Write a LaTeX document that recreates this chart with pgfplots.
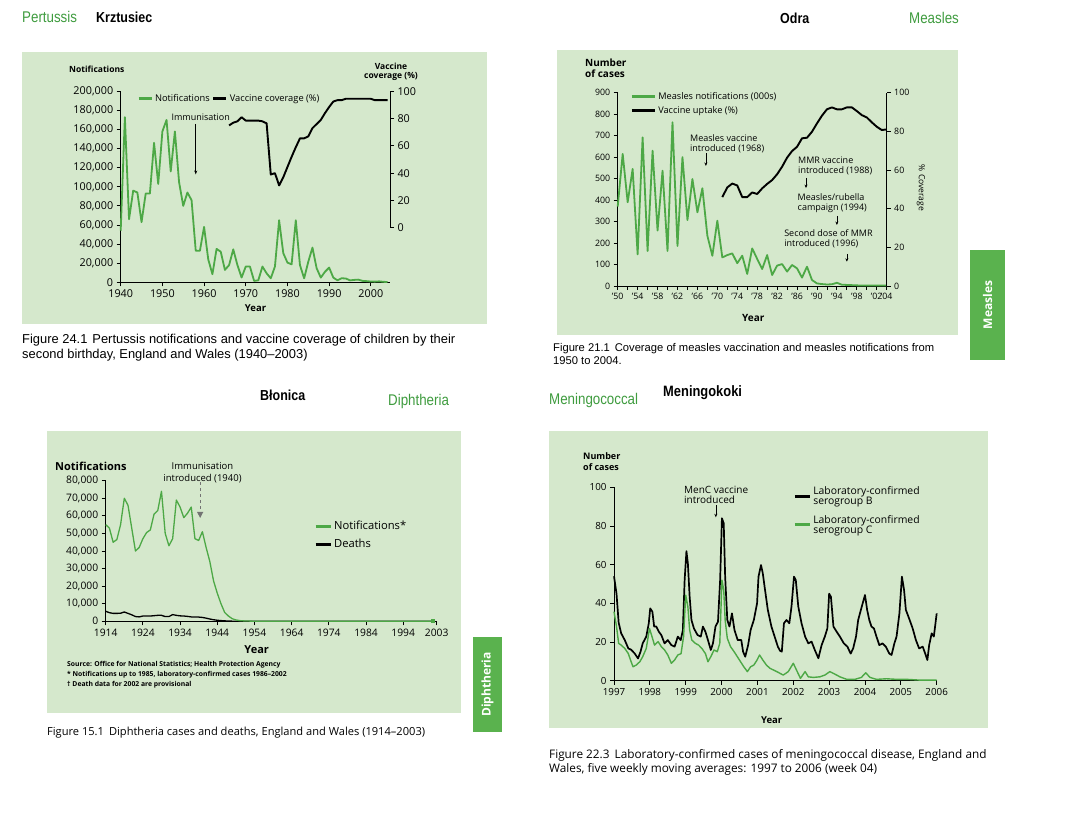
\documentclass[border=0pt]{standalone}
\usepackage{fontspec}
\setmainfont{Open Sans}
\newfontfamily\capfont[Ligatures=TeX]{Liberation Sans}
\newfontfamily\hdfont[FakeStretch=0.86,Ligatures=TeX]{Liberation Sans}
\usepackage{pgfplots}
\pgfplotsset{compat=1.18}
\usetikzlibrary{arrows.meta}
\definecolor{panelbg}{HTML}{D5E8CC}
\definecolor{lgreen}{HTML}{4DA846}
\definecolor{hgreen}{HTML}{3F9C3F}
\definecolor{tabgreen}{HTML}{5AB24E}
\newcommand{\fs}[2]{\fontsize{#1}{#2}\selectfont}
\pgfplotsset{
  every axis/.append style={scale only axis, clip=false, tick align=outside,
    axis line style={-, line width=0.8pt}, major tick length=4pt, minor tick length=4pt,
    tick style={black, line width=0.8pt},
    /pgf/number format/assume math mode=true, legend cell align=left},
  lgimg/.style={legend image code/.code={\draw[##1, line width=3pt] (0pt,0pt) -- (#1,0pt);}},
  nolg/.style={legend style={draw=none, fill=none, inner sep=0pt}},
}
\begin{document}
\begin{tikzpicture}
\fill[white] (0,0) rectangle (1068pt,820pt);
\begin{scope}[x=1pt,y=-1pt,yshift=820pt]
\fill[panelbg] (22,52) rectangle (487,324);
\fill[panelbg] (557,50) rectangle (958,335);
\fill[panelbg] (47,431) rectangle (461,713);
\fill[panelbg] (549,431) rectangle (988,728);
\fill[tabgreen] (970,250) rectangle (1005,360);
\fill[tabgreen] (473,637) rectangle (502,732);
\end{scope}

% ---------- Pertussis ----------
\begin{axis}[at={(120.7pt,537.7pt)}, anchor=south west, width=269.3pt, height=191pt,
  xmin=1940, xmax=2004.6, ymin=0, ymax=200000,
  axis x line*=bottom, axis y line*=left,
  xtick={1940,1950,...,2000}, ytick={0,20000,...,200000},
  scaled y ticks=false,
  yticklabel style={/pgf/number format/fixed, /pgf/number format/1000 sep={,}},
  xticklabel style={/pgf/number format/1000 sep={}},
  tick label style={font=\fs{10.8}{11}}]
\addplot[lgreen, line width=1.8pt, line join=round] coordinates {
(1940,54000) (1941,173000) (1942,66000) (1943,96000) (1944,94000) (1945,63000)
(1946,93000) (1947,93000) (1948,146000) (1949,103000) (1950,158000) (1951,170000)
(1952,116000) (1953,158000) (1954,105000) (1955,80000) (1956,94000) (1957,86000)
(1958,33000) (1959,33000) (1960,58000) (1961,24000) (1962,8500) (1963,35000)
(1964,32000) (1965,13000) (1966,18000) (1967,34500) (1968,18000) (1969,5000)
(1970,16500) (1971,16500) (1972,1500) (1973,2000) (1974,16500) (1975,9400)
(1976,4200) (1977,16500) (1978,65000) (1979,30500) (1980,20600) (1981,18800)
(1982,65000) (1983,18000) (1984,4200) (1985,21600) (1986,36300) (1987,14700)
(1988,4900) (1989,11000) (1990,15400) (1991,4900) (1992,2100) (1993,4200)
(1994,4000) (1995,2000) (1996,2500) (1997,2800) (1998,1500) (1999,1200)
(2000,800) (2001,700) (2002,1000) (2003,500) (2004,300)};
\draw[line width=0.6pt, -{Stealth[length=4pt,width=3pt]}] (axis cs:1958,166000) -- (axis cs:1958,113000);
\node[font=\fs{9}{10}, inner sep=0pt] at (axis cs:1959.2,172400) {Immunisation};
\end{axis}
\begin{axis}[at={(120.7pt,537.7pt)}, anchor=south west, width=269.3pt, height=191pt,
  xmin=1940, xmax=2004.6, ymin=-40, ymax=100,
  axis x line=none, axis y line*=right, y axis line style={draw=none},
  ytick={0,20,...,100}, tick label style={font=\fs{10.8}{11}},
  lgimg=13pt, nolg,
  legend style={at={(0.06,0.961)}, anchor=west, legend columns=2, font=\fs{9.3}{10}}]
\addlegendimage{lgreen, line width=1.8pt}
\addlegendentry{Notifications}
\addplot[black, line width=1.9pt, line join=round] coordinates {
(1966,75) (1967,77) (1968,78) (1969,81) (1970,78.5) (1971,78.5) (1972,78.5)
(1973,78.5) (1974,78) (1975,76.5) (1976,39) (1977,40) (1978,31) (1979,37)
(1980,44.5) (1981,52) (1982,59) (1983,65.5) (1984,65.5) (1985,67) (1986,73)
(1987,76) (1988,79) (1989,84) (1990,88.5) (1991,92.5) (1992,93.5) (1993,93.5)
(1994,94.5) (1995,94.5) (1996,94.5) (1997,94.5) (1998,94.5) (1999,94.5)
(2000,94.5) (2001,93.5) (2002,93.5) (2003,93.5) (2004,93.5)};
\addlegendentry{Vaccine coverage (\%)}
\draw[line width=0.8pt] (axis cs:2004.6,0) -- (axis cs:2004.6,100);
\end{axis}

% ---------- Measles ----------
\begin{axis}[at={(617.7pt,534pt)}, anchor=south west, width=269pt, height=193.3pt,
  xmin=1950, xmax=2004, ymin=0, ymax=900,
  axis x line*=bottom, axis y line*=left,
  xtick={1950,1954,1958,1962,1966,1970,1974,1978,1982,1986,1990,1994,1998,2002,2004},
  xticklabels={'50,'54,'58,'62,'66,'70,'74,'78,'82,'86,'90,'94,'98,'02,'04},
  minor xtick={1952,1956,1960,1964,1968,1972,1976,1980,1984,1988,1992,1996,2000},
  ytick={0,100,...,900}, tick label style={font=\fs{8.8}{9}}]
\addplot[lgreen, line width=1.8pt, line join=round] coordinates {
(1950,370) (1951,615) (1952,390) (1953,545) (1954,147) (1955,692) (1956,163)
(1957,630) (1958,258) (1959,537) (1960,163) (1961,762) (1962,186) (1963,600)
(1964,307) (1965,498) (1966,343) (1967,455) (1968,234) (1969,141) (1970,304)
(1971,133) (1972,144) (1973,152) (1974,106) (1975,141) (1976,56) (1977,175)
(1978,126) (1979,79) (1980,144) (1981,51) (1982,95) (1983,102) (1984,67)
(1985,98) (1986,82) (1987,39) (1988,90) (1989,28) (1990,12) (1991,9) (1992,7)
(1993,8) (1994,15) (1995,6) (1996,5) (1997,4) (1998,3) (1999,2) (2000,2)
(2001,2) (2002,2) (2003,2) (2004,2)};
\node[anchor=west, align=left, font=\fs{9}{10.5}, inner sep=0pt] at (axis cs:1964.5,661) {Measles vaccine\\introduced (1968)};
\draw[line width=0.6pt, -{Stealth[length=3.5pt,width=3pt]}] (axis cs:1967.7,619) -- (axis cs:1967.7,559);
\node[anchor=west, align=left, font=\fs{9}{10.5}, inner sep=0pt] at (axis cs:1986.2,560) {MMR vaccine\\introduced (1988)};
\draw[line width=0.6pt, -{Stealth[length=3.5pt,width=3pt]}] (axis cs:1987.8,503) -- (axis cs:1987.8,456);
\node[anchor=west, align=left, font=\fs{9}{10.5}, inner sep=0pt] at (axis cs:1986.1,386) {Measles/rubella\\campaign (1994)};
\draw[line width=0.6pt, -{Stealth[length=3.5pt,width=3pt]}] (axis cs:1994,327) -- (axis cs:1994,284);
\node[anchor=west, align=left, font=\fs{9}{10.5}, inner sep=0pt] at (axis cs:1983.4,220) {Second dose of MMR\\introduced (1996)};
\draw[line width=0.6pt, -{Stealth[length=3.5pt,width=3pt]}] (axis cs:1996,149) -- (axis cs:1996,113);
\end{axis}
\begin{axis}[at={(617.7pt,534pt)}, anchor=south west, width=269pt, height=193.3pt,
  xmin=1950, xmax=2004, ymin=0, ymax=100,
  axis x line=none, axis y line*=right,
  ytick={0,20,...,100}, tick label style={font=\fs{8.8}{9}},
  lgimg=23pt, nolg,
  legend style={at={(0.046,1.014)}, anchor=north west, font=\fs{9.2}{10}, row sep=2pt}]
\addlegendimage{lgreen, line width=1.8pt}
\addlegendentry{Measles notifications (000s)}
\addplot[black, line width=1.9pt, line join=round] coordinates {
(1971,46) (1972,51) (1973,53) (1974,52) (1975,46) (1976,46) (1977,48.4)
(1978,47.6) (1979,50.5) (1980,52.8) (1981,54.8) (1982,57.8) (1983,61.7)
(1984,66.4) (1985,69.8) (1986,72) (1987,76.4) (1988,76.7) (1989,79.8)
(1990,84.1) (1991,88.1) (1992,91.4) (1993,92.4) (1994,91.4) (1995,91.4)
(1996,92.4) (1997,92.4) (1998,90.5) (1999,88.4) (2000,87.2) (2001,84.7)
(2002,82.4) (2003,80.7) (2004,81)};
\addlegendentry{Vaccine uptake (\%)}
\end{axis}

% ---------- Diphtheria ----------
\begin{axis}[at={(105.7pt,198.7pt)}, anchor=south west, width=331pt, height=140.6pt,
  xmin=1914, xmax=2003, ymin=0, ymax=80000,
  axis x line*=bottom, axis y line*=left,
  xtick={1914,1924,1934,1944,1954,1964,1974,1984,1994,2003},
  ytick={0,10000,...,80000}, scaled y ticks=false,
  yticklabel style={/pgf/number format/fixed, /pgf/number format/1000 sep={,}},
  xticklabel style={/pgf/number format/1000 sep={}},
  tick label style={font=\fs{10.3}{11}},
  lgimg=15pt, nolg,
  legend style={at={(0.629,0.728)}, anchor=north west, font=\fs{11.2}{12}, row sep=4pt}]
\addlegendimage{lgreen, line width=1.3pt}
\addlegendentry{Notifications*}
\addlegendimage{black, line width=1.3pt}
\addlegendentry{Deaths}
\addplot[black, line width=1.3pt, line join=round, forget plot] coordinates {
(1914,5700) (1915,4900) (1916,4500) (1917,4500) (1918,4600) (1919,5300)
(1920,4500) (1921,3700) (1922,2700) (1923,2500) (1924,3000) (1925,3000)
(1926,3000) (1927,3200) (1928,3400) (1929,3400) (1930,2700) (1931,2700)
(1932,3800) (1933,3400) (1934,3100) (1935,3000) (1936,2800) (1937,2500)
(1938,2500) (1939,2400) (1940,2200) (1941,1800) (1942,1300) (1943,900)
(1944,600) (1945,400) (1946,250) (1947,150) (1948,80) (1949,40) (1950,20)
(1960,5) (1980,2) (2002,2)};
\addplot[lgreen, line width=1.3pt, line join=round, forget plot] coordinates {
(1914,55000) (1915,53000) (1916,45000) (1917,46500) (1918,55000) (1919,70000)
(1920,66000) (1921,53000) (1922,40000) (1923,42000) (1924,47000) (1925,50500)
(1926,52000) (1927,61000) (1928,63000) (1929,74000) (1930,50000) (1931,43000)
(1932,47000) (1933,69000) (1934,65000) (1935,59000) (1936,61500) (1937,65000)
(1938,47000) (1939,46000) (1940,51000) (1941,42000) (1942,34000) (1943,23000)
(1944,16000) (1945,10000) (1946,5000) (1947,3000) (1948,1500) (1949,800)
(1950,400) (1951,250) (1952,150) (1953,100) (1954,60) (1960,30) (1970,20)
(1980,10) (1990,20) (2002,30)};
\addplot[lgreen, only marks, mark=square*, mark size=1.6pt, forget plot] coordinates {(2002,300)};
\draw[black!55, dashed, line width=0.9pt, -{Triangle[length=6pt,width=6pt]}] (axis cs:1939.4,79000) -- (axis cs:1939.4,58800);
\end{axis}

% ---------- Meningococcal ----------
\begin{axis}[at={(614pt,139.3pt)}, anchor=south west, width=322.7pt, height=193.4pt,
  xmin=1997, xmax=2006, ymin=0, ymax=100,
  axis x line*=bottom, axis y line*=left,
  xtick={1997,1998,...,2006}, ytick={0,20,...,100},
  xticklabel style={/pgf/number format/1000 sep={}},
  tick label style={font=\fs{9.8}{10}},
  lgimg=15pt, nolg,
  legend style={at={(0.555,1.017)}, anchor=north west, font=\fs{10.4}{10.4}, row sep=5pt, cells={align=left}}]
\addlegendimage{black, line width=1.6pt}
\addlegendentry{Laboratory-confirmed\\serogroup B}
\addlegendimage{lgreen, line width=1.6pt}
\addlegendentry{Laboratory-confirmed\\serogroup C}
\addplot[black, line width=1.7pt, line join=round, forget plot] coordinates {
(1997.00,54) (1997.07,45) (1997.13,30) (1997.20,24.5) (1997.30,21) (1997.40,16.7)
(1997.48,16) (1997.58,14) (1997.67,11.5) (1997.74,15) (1997.80,19.3) (1997.90,22.8)
(1997.97,29.7) (1998.01,37.4) (1998.07,35.7) (1998.12,28) (1998.18,28) (1998.25,25.3)
(1998.32,23.6) (1998.41,19.3) (1998.50,21) (1998.60,18.4) (1998.69,17.6) (1998.78,22.8)
(1998.86,21) (1998.92,26) (1998.97,52) (1999.02,67) (1999.06,60.7) (1999.11,43.4)
(1999.16,31.4) (1999.23,27) (1999.33,23.6) (1999.42,22.8) (1999.48,28) (1999.55,25.3)
(1999.62,21) (1999.70,15.9) (1999.76,19.3) (1999.83,28) (1999.90,30.5) (1999.96,52)
(2000.01,84) (2000.06,81.4) (2000.10,53.8) (2000.16,31.4) (2000.22,28) (2000.29,34.8)
(2000.36,26.2) (2000.45,21) (2000.55,21) (2000.60,15) (2000.66,12.4) (2000.74,18.4)
(2000.81,26.2) (2000.90,31.4) (2000.99,40) (2001.03,53.8) (2001.10,59.8) (2001.15,55.5)
(2001.20,48.6) (2001.29,36.6) (2001.39,28) (2001.48,22.8) (2001.57,17.6) (2001.63,15.5)
(2001.68,15) (2001.74,29.7) (2001.81,31.4) (2001.89,29.7) (2001.95,38.3) (2002.02,53.8)
(2002.07,52) (2002.14,38.3) (2002.23,29.7) (2002.33,22.8) (2002.42,19.3) (2002.51,20.2)
(2002.60,15.9) (2002.70,11.6) (2002.79,18.4) (2002.88,22.8) (2002.95,27) (2003.00,45)
(2003.05,43.4) (2003.12,28) (2003.21,25.3) (2003.30,22.8) (2003.41,19.3) (2003.51,17.6)
(2003.60,14) (2003.67,16.7) (2003.75,22.8) (2003.81,31.4) (2003.91,38.3) (2004.00,44.3)
(2004.06,36.6) (2004.12,31.4) (2004.18,28) (2004.25,27) (2004.32,22.8) (2004.40,18.4)
(2004.49,19.3) (2004.58,17.6) (2004.68,14) (2004.74,13.3) (2004.82,19.3) (2004.88,22.8)
(2004.96,34.8) (2005.03,53.8) (2005.09,46.9) (2005.14,36.6) (2005.23,32.2) (2005.33,27)
(2005.42,21) (2005.51,16.7) (2005.61,17.6) (2005.68,14) (2005.74,10.7) (2005.79,18.4)
(2005.86,24.5) (2005.92,22.8) (2006.00,34.8)};
\addplot[lgreen, line width=1.4pt, line join=round, forget plot] coordinates {
(1997.00,35.7) (1997.07,28) (1997.13,19.3) (1997.20,18.4) (1997.30,16.7) (1997.40,14)
(1997.46,10.7) (1997.53,7.2) (1997.62,8.1) (1997.72,9.8) (1997.80,12.4) (1997.90,16.7)
(1997.99,27) (1998.06,22.8) (1998.13,18.4) (1998.23,20.2) (1998.32,17.6) (1998.41,15.9)
(1998.50,13.3) (1998.60,9) (1998.69,10.7) (1998.78,13.3) (1998.87,14) (1998.94,22.8)
(1999.00,44.3) (1999.06,38.3) (1999.11,26.2) (1999.17,21) (1999.27,19.3) (1999.36,18.4)
(1999.45,16.7) (1999.55,14) (1999.62,9.8) (1999.70,12.4) (1999.79,15.9) (1999.88,15)
(1999.95,19.3) (2000.01,52) (2000.06,46.9) (2000.10,31.4) (2000.16,21.9) (2000.25,17.6)
(2000.35,15) (2000.44,12.4) (2000.53,9.8) (2000.62,7.2) (2000.72,4.7) (2000.81,7.2)
(2000.90,8.1) (2000.99,10.7) (2001.06,13.3) (2001.15,10.7) (2001.25,8.1) (2001.35,6.4)
(2001.54,4.7) (2001.72,2.9) (2001.86,4.7) (2002.00,9) (2002.09,5.5) (2002.20,1.2)
(2002.33,4.7) (2002.42,2) (2002.56,1.7) (2002.74,2) (2002.88,2.9) (2003.02,4.7)
(2003.16,3.4) (2003.30,2) (2003.49,0.7) (2003.72,0.7) (2003.90,1.7) (2004.02,4.1)
(2004.14,1.7) (2004.32,0.7) (2004.60,1) (2004.88,0.7) (2005.16,0.7) (2005.53,0.3)
(2006.00,0.3)};
\node[anchor=west, align=left, font=\fs{10}{10}, inner sep=0pt] at (axis cs:1998.95,96) {MenC vaccine\\introduced};
\draw[line width=0.6pt, -{Stealth[length=3.5pt,width=3pt]}] (axis cs:1999.84,90.8) -- (axis cs:1999.84,84.5);
\end{axis}

% ---------- texts ----------
\begin{scope}[x=1pt,y=-1pt,yshift=820pt, every node/.style={inner sep=0pt}]
\node[anchor=base west, text=hgreen, font=\hdfont\fs{15.5}{16}] at (22,23) {Pertussis};
\node[anchor=base west, font=\hdfont\bfseries\fs{14.5}{15}] at (96,23) {Krztusiec};
\node[anchor=base west, font=\hdfont\bfseries\fs{14.5}{15}] at (780,24) {Odra};
\node[anchor=base west, text=hgreen, font=\hdfont\fs{15.5}{16}] at (909,24) {Measles};
\node[anchor=base west, font=\hdfont\bfseries\fs{14.5}{15}] at (260,401) {Błonica};
\node[anchor=base west, text=hgreen, font=\hdfont\fs{15.5}{16}] at (388,406) {Diphtheria};
\node[anchor=base west, text=hgreen, font=\hdfont\fs{15.5}{16}] at (549,405) {Meningococcal};
\node[anchor=base west, font=\hdfont\bfseries\fs{15}{15}] at (663,397) {Meningokoki};
\node[rotate=90, text=white, font=\bfseries\fs{12}{12}] at (987.5,305) {Measles};
\node[rotate=90, text=white, font=\bfseries\fs{12}{12}] at (487.5,684.5) {Diphtheria};
% pertussis
\node[anchor=west, font=\bfseries\fs{8.5}{9}] at (69,69.3) {Notifications};
\node[align=center, font=\bfseries\fs{8.5}{9.5}] at (391,72) {Vaccine\\coverage (\%)};
\node[font=\bfseries\fs{9.5}{10}] at (255.5,308) {Year};
\node[anchor=base west, font=\capfont\fs{12.9}{14}] at (22,344) {Figure 24.1\hspace{5pt}Pertussis notifications and vaccine coverage of children by their};
\node[anchor=base west, font=\capfont\fs{12.9}{14}] at (22,359) {second birthday, England and Wales (1940–2003)};
% measles
\node[anchor=north west, align=left, font=\bfseries\fs{10}{11}] at (585,59) {Number\\of cases};
\node[font=\bfseries\fs{10}{11}] at (753.3,317.7) {Year};
\node[rotate=-90, font=\fs{8.5}{9}] at (921,188) {\% Coverage};
\node[anchor=base west, font=\capfont\fs{11.2}{12}] at (553,352) {Figure 21.1\hspace{5pt}Coverage of measles vaccination and measles notifications from};
\node[anchor=base west, font=\capfont\fs{11.2}{12}] at (553,365) {1950 to 2004.};
% diphtheria
\node[anchor=west, font=\bfseries\fs{11}{12}] at (55,466) {Notifications};
\node[align=center, font=\fs{9.5}{12.3}] at (202.5,473) {Immunisation\\introduced (1940)};
\node[font=\bfseries\fs{11}{12}] at (256.7,649.3) {Year};
\node[anchor=west, font=\bfseries\fs{6.8}{7}] at (67,664.3) {Source: Office for National Statistics; Health Protection Agency};
\node[anchor=west, font=\bfseries\fs{6.8}{7}] at (67,675) {* Notifications up to 1985, laboratory-confirmed cases 1986--2002};
\node[anchor=west, font=\bfseries\fs{6.8}{7}] at (67,685) {\textdagger\ Death data for 2002 are provisional};
\node[anchor=base west, font=\fs{11.1}{12}] at (47,735.5) {Figure 15.1\hspace{5pt}Diphtheria cases and deaths, England and Wales (1914--2003)};
% meningococcal
\node[anchor=north west, align=left, font=\bfseries\fs{9}{11}] at (583,452) {Number\\of cases};
\node[font=\bfseries\fs{9.5}{10}] at (771.7,720) {Year};
\node[anchor=base west, font=\fs{11.8}{14}] at (549,758) {Figure 22.3\hspace{5pt}Laboratory-confirmed cases of meningococcal disease, England and};
\node[anchor=base west, font=\fs{11.8}{14}] at (549,772) {Wales, five weekly moving averages: 1997 to 2006 (week 04)};
\end{scope}
\pgfresetboundingbox
\path[use as bounding box] (0,0) rectangle (1068pt,820pt);
\end{tikzpicture}
\end{document}
